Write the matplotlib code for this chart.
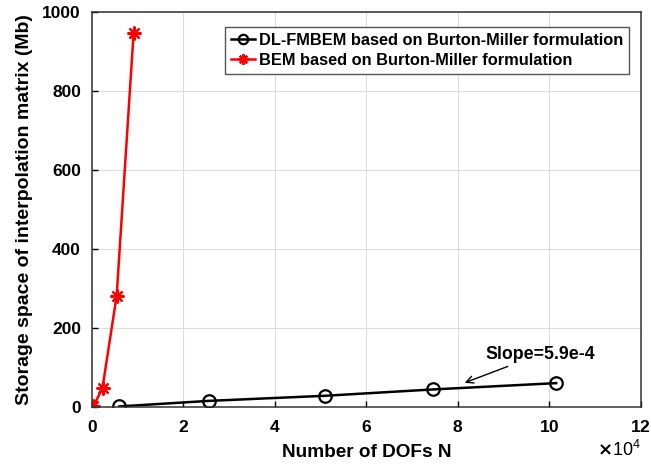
import numpy as np
import matplotlib.pyplot as plt
from matplotlib.ticker import ScalarFormatter

plt.rcParams['font.family'] = ['Liberation Sans', 'DejaVu Sans']
plt.rcParams['font.weight'] = 'bold'

# DL-FMBEM (Burton-Miller)
dof_fmbem = [6000, 25500, 51000, 74500, 101500]
mem_fmbem = [1, 15, 28, 44, 60]

# conventional BEM (Burton-Miller)
dof_bem = [300, 2300, 5400, 9100]
mem_bem = [1, 48, 282, 947]

fig = plt.figure(figsize=(6.51, 4.66), dpi=100)
ax = fig.add_axes([0.1413, 0.127, 0.843, 0.847])

ax.plot(dof_fmbem, mem_fmbem, '-o', color='black', lw=1.8, ms=9,
        mfc='none', mew=1.6, label='DL-FMBEM based on Burton-Miller formulation')
ax.plot(dof_bem, mem_bem, '-', color='red', lw=1.8, marker=(8, 2, 0), ms=10,
        mew=1.6, label='BEM based on Burton-Miller formulation')

ax.set_xlim(0, 120000)
ax.set_ylim(0, 1000)
ax.set_xticks(np.arange(0, 120001, 20000))
ax.set_yticks(np.arange(0, 1001, 200))
fmt = ScalarFormatter(useMathText=True)
fmt.set_powerlimits((4, 4))
ax.xaxis.set_major_formatter(fmt)
off = ax.xaxis.get_offset_text()
off.set_fontsize(13)
off.set_fontweight('normal')
off.set_y(-0.03)

ax.grid(True, color='#dcdcdc', lw=0.8)
ax.tick_params(labelsize=12.5, direction='in', length=4, width=1)
ax.tick_params(axis='y', pad=8)
ax.tick_params(axis='x', pad=9)
for s in ax.spines.values():
    s.set_linewidth(1.1)
    s.set_color('#333333')

ax.set_xlabel('Number of DOFs N', fontsize=13.7, fontweight='bold', labelpad=6)
ax.set_ylabel('Storage space of interpolation matrix (Mb)', fontsize=14,
              fontweight='bold', labelpad=7)

ax.annotate('Slope=5.9e-4', xy=(81500, 61), xytext=(86000, 122),
            fontsize=12.8, fontweight='bold',
            arrowprops=dict(arrowstyle='->', color='black', lw=1,
                            shrinkA=2, shrinkB=0))

leg = ax.legend(loc='upper right', fontsize=11.8, handlelength=1.5,
                handletextpad=0.2, borderpad=0.35, labelspacing=0.3,
                borderaxespad=0, markerscale=0.75,
                fancybox=False, framealpha=1, edgecolor='#555555',
                bbox_to_anchor=(0.978, 0.962))
for t in leg.get_texts():
    t.set_fontweight('bold')

fig.savefig('out.png', dpi=100)
